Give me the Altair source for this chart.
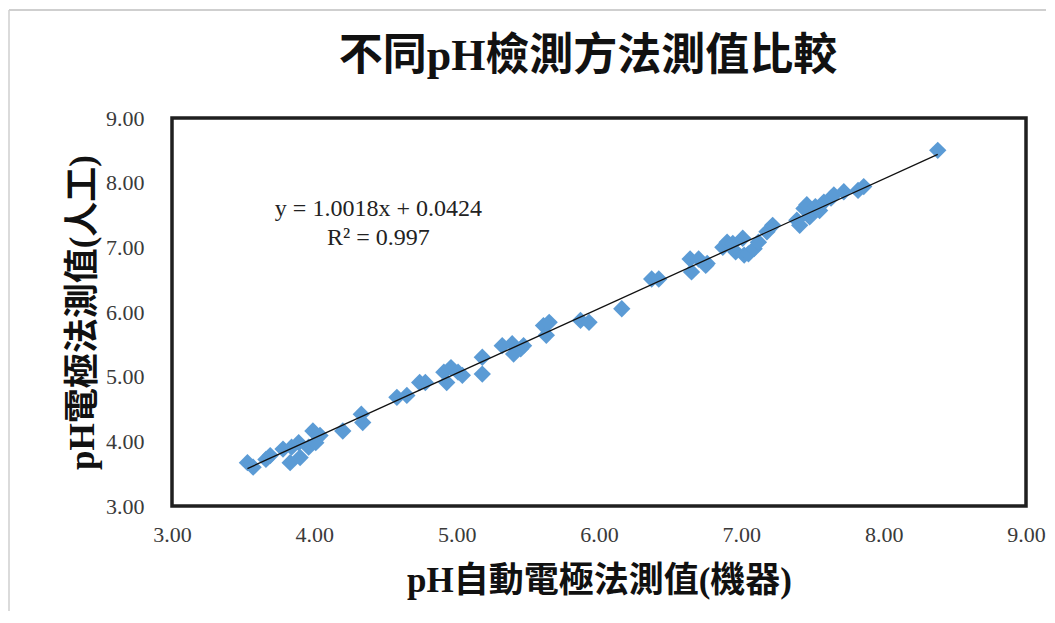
import altair as alt
import pandas as pd

# pH measured by automatic electrode (machine) vs manual electrode
ph_machine = [3.53, 3.57, 3.66, 3.69, 3.78, 3.83, 3.84, 3.89, 3.90, 3.96,
              3.99, 4.01, 4.04, 4.20, 4.33, 4.34, 4.58, 4.65, 4.74, 4.78,
              4.91, 4.93, 4.96, 5.01, 5.04, 5.18, 5.18, 5.32, 5.39, 5.40,
              5.45, 5.47, 5.61, 5.63, 5.65, 5.87, 5.93, 6.16, 6.37, 6.42,
              6.64, 6.65, 6.70, 6.75, 6.76, 6.87, 6.90, 6.94, 6.96, 7.01,
              7.02, 7.05, 7.09, 7.12, 7.18, 7.22, 7.39, 7.41, 7.44, 7.46,
              7.48, 7.52, 7.55, 7.58, 7.63, 7.65, 7.72, 7.82, 7.86, 8.38]
ph_manual = [3.67, 3.60, 3.72, 3.78, 3.88, 3.67, 3.91, 3.98, 3.75, 3.91,
             4.16, 3.98, 4.09, 4.16, 4.42, 4.29, 4.68, 4.71, 4.91, 4.91,
             5.07, 4.91, 5.14, 5.07, 5.02, 5.30, 5.04, 5.48, 5.51, 5.35,
             5.43, 5.48, 5.79, 5.64, 5.84, 5.87, 5.84, 6.05, 6.51, 6.51,
             6.82, 6.62, 6.82, 6.72, 6.75, 7.00, 7.08, 7.06, 6.93, 7.14,
             6.88, 6.90, 6.98, 7.08, 7.24, 7.34, 7.42, 7.34, 7.60, 7.66,
             7.47, 7.63, 7.57, 7.70, 7.76, 7.81, 7.86, 7.88, 7.94, 8.50]

slope = 1.0018
intercept = 0.0424
eq_lines = ["y = 1.0018x + 0.0424", "R² = 0.997"]
eq_x = [4.45, 4.45]
eq_y = [7.60, 7.15]

title_text = ["不同pH檢測方法測值比較"]
x_title = "pH自動電極法測值(機器)"
y_title = "pH電極法測值(人工)"
tick_values = [3, 4, 5, 6, 7, 8, 9]

FONT = "Liberation Serif, Times New Roman, Noto Sans CJK TC"

df = pd.DataFrame({"x": ph_machine, "y": ph_manual})
xmin, xmax = min(ph_machine), max(ph_machine)
line_df = pd.DataFrame({"x": [xmin, xmax],
                        "y": [slope * xmin + intercept, slope * xmax + intercept]})
eq_df = pd.DataFrame({"x": eq_x, "y": eq_y, "t": eq_lines})
title_df = pd.DataFrame({"t": title_text})

W, H = 854, 388

xscale = alt.Scale(domain=[3, 9], nice=False, zero=False)
yscale = alt.Scale(domain=[3, 9], nice=False, zero=False)

xaxis = alt.Axis(values=tick_values, format=".2f", grid=False, ticks=False, domain=False,
                 labelFlush=False,
                 labelFont=FONT, labelFontSize=22, labelColor="#3a3a3a", labelPadding=18,
                 title=x_title, titleFont=FONT, titleFontSize=35, titleFontWeight="bold",
                 titleColor="#111111", titleX=W / 2, titleY=74, titleBaseline="middle",
                 titleAlign="center")
yaxis = alt.Axis(values=tick_values, format=".2f", grid=False, ticks=False, domain=False,
                 labelFlush=False,
                 labelFont=FONT, labelFontSize=22, labelColor="#3a3a3a", labelPadding=28,
                 title=y_title, titleFont=FONT, titleFontSize=35, titleFontWeight="bold",
                 titleColor="#111111", titleX=-90, titleY=H / 2, titleAngle=-90,
                 titleBaseline="middle", titleAlign="center")

points = alt.Chart(df).mark_point(shape="diamond", filled=True, size=300, opacity=1,
                                  color="#5B9BD5").encode(
    x=alt.X("x:Q", scale=xscale, axis=xaxis),
    y=alt.Y("y:Q", scale=yscale, axis=yaxis),
)

trend = alt.Chart(line_df).mark_line(color="#111111", strokeWidth=1.3).encode(
    x=alt.X("x:Q", scale=xscale),
    y=alt.Y("y:Q", scale=yscale),
)

eq = alt.Chart(eq_df).mark_text(font=FONT, fontSize=24, color="#222222",
                                align="center", baseline="middle").encode(
    x=alt.X("x:Q", scale=xscale),
    y=alt.Y("y:Q", scale=yscale),
    text="t:N",
)

title = alt.Chart(title_df).mark_text(font=FONT, fontSize=44, fontWeight="bold",
                                      color="#111111", align="center",
                                      baseline="middle").encode(
    x=alt.value(W / 2 - 11), y=alt.value(-61), text="t:N")

# light grey outline of the chart area (top and left edges)
frame_top = alt.Chart(pd.DataFrame({"k": [0]})).mark_rule(
    color="#cfcfcf", strokeWidth=2).encode(
    x=alt.value(-163), x2=alt.value(W + 20), y=alt.value(-108))
frame_left = alt.Chart(pd.DataFrame({"k": [0]})).mark_rule(
    color="#cfcfcf", strokeWidth=1.5).encode(
    x=alt.value(-163), y=alt.value(-108), y2=alt.value(H + 105))

chart = alt.layer(frame_top, frame_left, title, points, trend, eq).properties(
    width=W, height=H,
    autosize=alt.AutoSizeParams(type="none"),
    padding={"left": 164, "top": 110, "right": 20, "bottom": 105},
    background="white",
).configure_view(
    stroke="#1f1f1f", strokeWidth=3.5
)

chart.save("out.html", embed_options={"renderer": "svg", "actions": False})
